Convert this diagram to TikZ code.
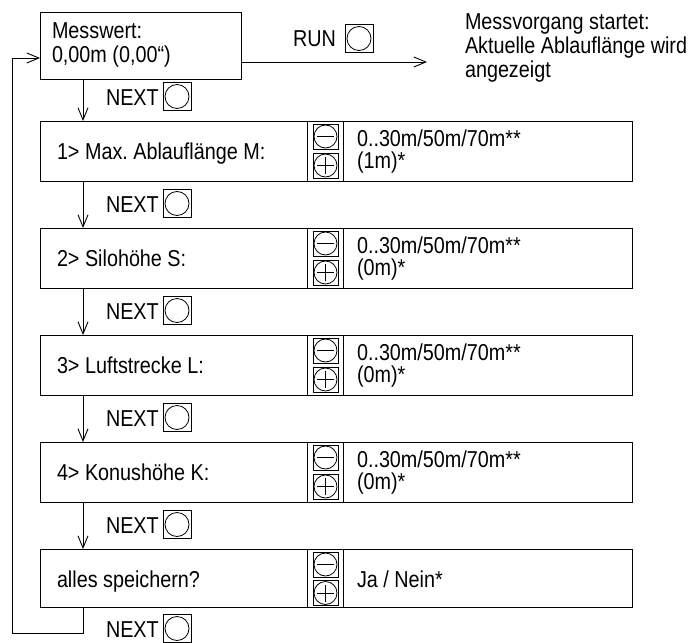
\documentclass[tikz,border=0pt]{standalone}
\usepackage{fontspec}
\setmainfont{Liberation Sans}[FakeStretch=0.86]
\usetikzlibrary{arrows.meta,calc}
\begin{document}
\begin{tikzpicture}[x=1pt,y=-1pt,
  font=\fontsize{23}{27}\selectfont\frenchspacing,
  box/.style={draw, line width=1pt, inner sep=0pt, anchor=north west},
  txt/.style={anchor=base west, inner sep=0pt, outer sep=0pt},
  conn/.style={line width=0.9pt, -{Straight Barb[length=12pt,width=10pt,line width=0.9pt]}},
  btnbase/.style={draw, line width=0.8pt, inner sep=0pt, minimum width=25pt, minimum height=25pt},
  nextbtn/.style={btnbase, minimum width=28pt, minimum height=28pt,
    path picture={\draw[line width=0.8pt] (path picture bounding box.center) circle (12pt);}},
  minusbtn/.style={btnbase,
    path picture={\draw[line width=0.8pt] (path picture bounding box.center) circle (11.5pt);
                  \draw[line width=0.8pt] ($(path picture bounding box.center)+(-8.5pt,0)$) -- ($(path picture bounding box.center)+(8.5pt,0)$);}},
  plusbtn/.style={btnbase,
    path picture={\draw[line width=0.8pt] (path picture bounding box.center) circle (11.5pt);
                  \draw[line width=0.8pt] ($(path picture bounding box.center)+(-8.5pt,0)$) -- ($(path picture bounding box.center)+(8.5pt,0)$);
                  \draw[line width=0.8pt] ($(path picture bounding box.center)+(0,-8.5pt)$) -- ($(path picture bounding box.center)+(0,8.5pt)$);}}
]
\useasboundingbox (0,0) rectangle (695,642);

% top box
\node[box, minimum width=201pt, minimum height=67pt] (b0) at (40,12) {};
\node[txt] (t0a) at (52,39) {Messwert:};
\node[txt] (t0b) at (52,63) {0,00m (0,00“)};

% RUN
\node[txt] (run) at (293,47) {RUN};
\node[nextbtn] (runbtn) at (359,38.5) {};
\coordinate (runend) at (427,62);
\draw[conn] (runend -| b0.east) -- (runend);
\node[txt] (r1) at (465,30) {Messvorgang startet:};
\node[txt] (r2) at (465,53.5) {Aktuelle Ablauflänge wird};
\node[txt] (r3) at (465,77) {angezeigt};

% rows 1-4
\foreach \n/\t/\lab/\val in {1/121/{1> Max. Ablauflänge M:}/{(1m)*},
                             2/228/{2> Silohöhe S:}/{(0m)*},
                             3/335/{3> Luftstrecke L:}/{(0m)*},
                             4/442/{4> Konushöhe K:}/{(0m)*}} {
  \node[box, minimum width=267pt, minimum height=60pt] (b\n-l) at (40,\t) {};
  \node[box, minimum width=36pt, minimum height=60pt] (b\n-m) at (307,\t) {};
  \node[box, minimum width=289pt, minimum height=60pt] (b\n-r) at (343,\t) {};
  \node[txt] (t\n-l) at (57,\t+38) {\lab};
  \node[txt] (t\n-a) at (357,\t+25) {0..30m/50m/70m**};
  \node[txt] (t\n-b) at (357,\t+47) {\val};
  \node[minusbtn] (m\n) at (325.5,\t+15.5) {};
  \node[plusbtn] (p\n) at (325.5,\t+44.5) {};
}

% row 5
\node[box, minimum width=267pt, minimum height=58pt] (b5-l) at (40,549) {};
\node[box, minimum width=36pt, minimum height=58pt] (b5-m) at (307,549) {};
\node[box, minimum width=289pt, minimum height=58pt] (b5-r) at (343,549) {};
\node[txt] (t5-l) at (57,587) {alles speichern?};
\node[txt] (t5-a) at (357,587) {Ja / Nein*};
\node[minusbtn] (m5) at (325.5,564.5) {};
\node[plusbtn] (p5) at (325.5,593) {};

% NEXT labels
\foreach \k/\bl in {1/105, 2/212, 3/319, 4/426, 5/533, 6/637} {
  \node[txt] (next\k) at (106,\bl) {NEXT};
  \node[nextbtn] (nb\k) at (177,\bl-8.5) {};
}

% connectors
\coordinate (ax) at (83,0);
\draw[conn] (b0.south -| ax) -- (b1-l.north -| ax);
\draw[conn] (b1-l.south -| ax) -- (b2-l.north -| ax);
\draw[conn] (b2-l.south -| ax) -- (b3-l.north -| ax);
\draw[conn] (b3-l.south -| ax) -- (b4-l.north -| ax);
\draw[conn] (b4-l.south -| ax) -- (b5-l.north -| ax);

% loop back
\coordinate (lb) at (12,633);
\coordinate (lt) at (12,58);
\draw[conn] (b5-l.south -| ax) |- (lb) -- (lt) -- (lt -| b0.west);
\end{tikzpicture}
\end{document}
